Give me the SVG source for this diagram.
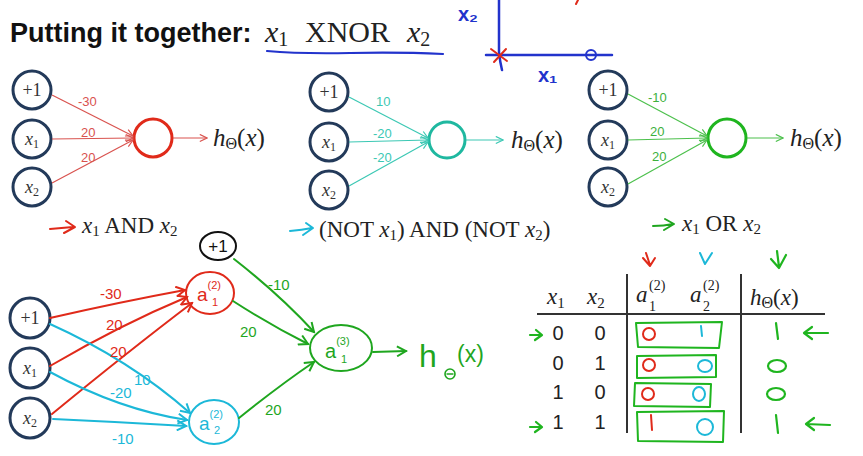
<svg xmlns="http://www.w3.org/2000/svg" width="863" height="456" viewBox="0 0 863 456">
<defs>
<marker id="ar" viewBox="0 0 10 10" refX="9" refY="5" markerWidth="9" markerHeight="9" markerUnits="userSpaceOnUse" orient="auto"><path d="M1,1 L9,5 L1,9" fill="none" stroke="#d9534f" stroke-width="1.3"/></marker>
<marker id="at" viewBox="0 0 10 10" refX="9" refY="5" markerWidth="9" markerHeight="9" markerUnits="userSpaceOnUse" orient="auto"><path d="M1,1 L9,5 L1,9" fill="none" stroke="#3cc8b4" stroke-width="1.3"/></marker>
<marker id="ag" viewBox="0 0 10 10" refX="9" refY="5" markerWidth="9" markerHeight="9" markerUnits="userSpaceOnUse" orient="auto"><path d="M1,1 L9,5 L1,9" fill="none" stroke="#4cc04c" stroke-width="1.3"/></marker>
<marker id="hr" viewBox="0 0 12 12" refX="10" refY="6" markerWidth="12" markerHeight="12" markerUnits="userSpaceOnUse" orient="auto"><path d="M1,1 L10,6 L1,11" fill="none" stroke="#e02a1a" stroke-width="2"/></marker>
<marker id="hc" viewBox="0 0 12 12" refX="10" refY="6" markerWidth="12" markerHeight="12" markerUnits="userSpaceOnUse" orient="auto"><path d="M1,1 L10,6 L1,11" fill="none" stroke="#1cb8d8" stroke-width="2"/></marker>
<marker id="hg" viewBox="0 0 12 12" refX="10" refY="6" markerWidth="12" markerHeight="12" markerUnits="userSpaceOnUse" orient="auto"><path d="M1,1 L10,6 L1,11" fill="none" stroke="#1fa61f" stroke-width="2"/></marker>
</defs>
<style>
.in{fill:#fff;stroke:#233a5a;stroke-width:3}
.nt{font-family:"Liberation Serif",serif;font-size:18px;fill:#333;text-anchor:middle}
.it{font-style:italic}
.sub{font-size:12px}
.math{font-family:"Liberation Serif",serif;fill:#222}
.w{font-family:"Liberation Sans",sans-serif;font-size:13px}
.hw{font-family:"Liberation Sans",sans-serif}
.tb{font-family:"Liberation Sans",sans-serif;font-size:20px;fill:#222;text-anchor:middle}
.hd{fill:none;stroke-linecap:round;stroke-linejoin:round}
.ho{font-size:25px}
.lb{font-size:23px}
</style>
<rect width="863" height="456" fill="#fff"/>

<!-- title -->
<g id="title">
<text x="10" y="42" font-family="Liberation Sans,sans-serif" font-weight="bold" font-size="27" fill="#111">Putting it together:</text>
<text y="42" class="math" font-size="30"><tspan x="265" class="it">x</tspan><tspan font-size="20" dy="4">1</tspan><tspan x="305" dy="-4">XNOR</tspan><tspan x="407" class="it">x</tspan><tspan font-size="20" dy="4">2</tspan></text>
<path d="M267,51 Q300,54 350,53 Q400,52 443,54" class="hd" stroke="#2233cc" stroke-width="2.2"/>
</g>

<!-- sketch axes -->
<g id="axes">
<path d="M499,0 L499,52 Q500,62 502,70" class="hd" stroke="#2233cc" stroke-width="2.5"/>
<path d="M486,55 L612,55" class="hd" stroke="#2233cc" stroke-width="2.5"/>
<path d="M491,49 L507,61 M494,62 L506,49" class="hd" stroke="#e02a1a" stroke-width="2"/>
<ellipse cx="591" cy="55" rx="5" ry="5" class="hd" stroke="#2233cc" stroke-width="2"/>
<path d="M578,0 L576,4" class="hd" stroke="#e02a1a" stroke-width="2"/>
<text x="458" y="21" class="hw" font-size="20" font-weight="bold" fill="#2233cc">x₂</text>
<text x="538" y="82" class="hw" font-size="20" font-weight="bold" fill="#2233cc">x₁</text>
</g>

<!-- Network 1: AND -->
<g id="and-net">
<g id="n1-bias"><circle cx="32" cy="90" r="19" class="in"/><text x="32" y="96" class="nt">+1</text></g>
<g id="n1-x1"><circle cx="32" cy="139" r="19" class="in"/><text x="32" y="145" class="nt"><tspan class="it">x</tspan><tspan class="sub" dy="3">1</tspan></text></g>
<g id="n1-x2"><circle cx="32" cy="187" r="19" class="in"/><text x="32" y="193" class="nt"><tspan class="it">x</tspan><tspan class="sub" dy="3">2</tspan></text></g>
<g id="n1-out"><circle cx="153" cy="138" r="19" fill="#fff" stroke="#e02a1a" stroke-width="3"/></g>
<g stroke="#d9534f" stroke-width="1.2">
<line x1="52" y1="95" x2="133" y2="136" marker-end="url(#ar)"/>
<line x1="52" y1="139" x2="133" y2="138" marker-end="url(#ar)"/>
<line x1="52" y1="183" x2="133" y2="140" marker-end="url(#ar)"/>
<line x1="173" y1="138" x2="207" y2="138" marker-end="url(#ar)"/>
</g>
<g class="w" fill="#d9534f"><text x="78" y="106">-30</text><text x="81" y="137">20</text><text x="81" y="162">20</text></g>
<text x="213" y="146" class="math ho"><tspan class="it">h</tspan><tspan font-size="16" dy="3">Θ</tspan><tspan dy="-3">(</tspan><tspan class="it">x</tspan>)</text>
<path d="M50,229 L73,227 M66,221 L75,227 L64,233" class="hd" stroke="#e02a1a" stroke-width="2"/>
<text x="82" y="233" class="math lb" fill="#d22"><tspan class="it">x</tspan><tspan font-size="15" dy="3">1</tspan><tspan dy="-3"> AND </tspan><tspan class="it">x</tspan><tspan font-size="15" dy="3">2</tspan></text>
</g>

<!-- Network 2: NOT AND NOT -->
<g id="nor-net">
<g id="n2-bias"><circle cx="329" cy="92" r="19" class="in"/><text x="329" y="98" class="nt">+1</text></g>
<g id="n2-x1"><circle cx="329" cy="142" r="19" class="in"/><text x="329" y="148" class="nt"><tspan class="it">x</tspan><tspan class="sub" dy="3">1</tspan></text></g>
<g id="n2-x2"><circle cx="329" cy="190" r="19" class="in"/><text x="329" y="196" class="nt"><tspan class="it">x</tspan><tspan class="sub" dy="3">2</tspan></text></g>
<g id="n2-out"><circle cx="447" cy="140" r="18" fill="#fff" stroke="#1fb8a0" stroke-width="3"/></g>
<g stroke="#3cc8b4" stroke-width="1.2">
<line x1="349" y1="97" x2="428" y2="138" marker-end="url(#at)"/>
<line x1="349" y1="142" x2="428" y2="140" marker-end="url(#at)"/>
<line x1="349" y1="186" x2="428" y2="142" marker-end="url(#at)"/>
<line x1="466" y1="140" x2="503" y2="140" marker-end="url(#at)"/>
</g>
<g class="w" fill="#3cc8b4"><text x="376" y="106">10</text><text x="373" y="138">-20</text><text x="373" y="162">-20</text></g>
<text x="511" y="148" class="math ho"><tspan class="it">h</tspan><tspan font-size="16" dy="3">Θ</tspan><tspan dy="-3">(</tspan><tspan class="it">x</tspan>)</text>
<path d="M290,231 Q302,230 312,228 M306,223 L313,228 L303,235" class="hd" stroke="#1cb8d8" stroke-width="2"/>
<text x="319" y="237" class="math lb" fill="#1aa3c4">(NOT <tspan class="it">x</tspan><tspan font-size="15" dy="3">1</tspan><tspan dy="-3">) AND (NOT </tspan><tspan class="it">x</tspan><tspan font-size="15" dy="3">2</tspan><tspan dy="-3">)</tspan></text>
</g>

<!-- Network 3: OR -->
<g id="or-net">
<g id="n3-bias"><circle cx="608" cy="90" r="19" class="in"/><text x="608" y="96" class="nt">+1</text></g>
<g id="n3-x1"><circle cx="608" cy="140" r="19" class="in"/><text x="608" y="146" class="nt"><tspan class="it">x</tspan><tspan class="sub" dy="3">1</tspan></text></g>
<g id="n3-x2"><circle cx="608" cy="187" r="19" class="in"/><text x="608" y="193" class="nt"><tspan class="it">x</tspan><tspan class="sub" dy="3">2</tspan></text></g>
<g id="n3-out"><circle cx="727" cy="138" r="19" fill="#fff" stroke="#1fb51f" stroke-width="3"/></g>
<g stroke="#4cc04c" stroke-width="1.2">
<line x1="628" y1="94" x2="707" y2="136" marker-end="url(#ag)"/>
<line x1="628" y1="140" x2="707" y2="138" marker-end="url(#ag)"/>
<line x1="628" y1="184" x2="707" y2="140" marker-end="url(#ag)"/>
<line x1="747" y1="138" x2="783" y2="138" marker-end="url(#ag)"/>
</g>
<g class="w" fill="#3cb03c"><text x="648" y="102">-10</text><text x="650" y="136">20</text><text x="652" y="161">20</text></g>
<text x="790" y="146" class="math ho"><tspan class="it">h</tspan><tspan font-size="16" dy="3">Θ</tspan><tspan dy="-3">(</tspan><tspan class="it">x</tspan>)</text>
<path d="M653,226 Q664,226 673,224 M665,219 L674,224 L664,230" class="hd" stroke="#1fa61f" stroke-width="2"/>
<text x="682" y="231" class="math lb" fill="#1fa61f"><tspan class="it">x</tspan><tspan font-size="15" dy="3">1</tspan><tspan dy="-3"> OR </tspan><tspan class="it">x</tspan><tspan font-size="15" dy="3">2</tspan></text>
</g>

<!-- Bottom XNOR network -->
<g id="xnor-net">
<g id="b-bias"><circle cx="30" cy="318" r="20" class="in"/><text x="30" y="324" class="nt">+1</text></g>
<g id="b-x1"><circle cx="30" cy="368" r="20" class="in"/><text x="30" y="374" class="nt"><tspan class="it">x</tspan><tspan class="sub" dy="3">1</tspan></text></g>
<g id="b-x2"><circle cx="30" cy="418" r="20" class="in"/><text x="30" y="424" class="nt"><tspan class="it">x</tspan><tspan class="sub" dy="3">2</tspan></text></g>
<g id="b-bias2"><ellipse cx="218" cy="246" rx="18" ry="14" class="hd" stroke="#111" stroke-width="2"/><text x="218" y="252" class="hw" font-size="17" fill="#111" text-anchor="middle">+1</text></g>
<g id="b-a1"><ellipse cx="210" cy="293" rx="24" ry="21" class="hd" stroke="#e02a1a" stroke-width="2"/><text x="197" y="301" class="hw" font-size="19" fill="#e02a1a">a<tspan font-size="11" dy="-12">(2)</tspan><tspan font-size="11" x="212" dy="17">1</tspan></text></g>
<g id="b-a2"><ellipse cx="214" cy="422" rx="25" ry="22" class="hd" stroke="#1cb8d8" stroke-width="2"/><text x="199" y="430" class="hw" font-size="19" fill="#1cb8d8">a<tspan font-size="11" dy="-12">(2)</tspan><tspan font-size="11" x="214" dy="16">2</tspan></text></g>
<g id="b-a3"><ellipse cx="341" cy="348" rx="31" ry="23" class="hd" stroke="#1fa61f" stroke-width="2"/><text x="325" y="358" class="hw" font-size="20" fill="#1fa61f">a<tspan font-size="11" dy="-13">(3)</tspan><tspan font-size="11" x="341" dy="18">1</tspan></text></g>
<g id="b-out"><text x="419" y="367" class="hw" font-size="32" fill="#1fa61f">h</text><circle cx="450" cy="374" r="5" class="hd" stroke="#1fa61f" stroke-width="1.6"/><path d="M447,374 L453,374" class="hd" stroke="#1fa61f" stroke-width="1.3"/><text x="457" y="362" class="hw" font-size="23" fill="#1fa61f">(x)</text></g>
</g>
<g id="connectors" stroke-width="2" class="hd">
<path d="M50,318 Q120,302 185,290" stroke="#e02a1a" marker-end="url(#hr)"/>
<path d="M50,366 Q120,325 187,297" stroke="#e02a1a" marker-end="url(#hr)"/>
<path d="M52,414 Q130,350 192,303" stroke="#e02a1a" marker-end="url(#hr)"/>
<path d="M50,324 Q130,360 190,413" stroke="#1cb8d8" marker-end="url(#hc)"/>
<path d="M50,372 Q120,410 187,420" stroke="#1cb8d8" marker-end="url(#hc)"/>
<path d="M53,419 Q120,422 186,426" stroke="#1cb8d8" marker-end="url(#hc)"/>
<path d="M234,259 Q280,295 314,332" stroke="#1fa61f" marker-end="url(#hg)"/>
<path d="M233,301 Q270,325 308,344" stroke="#1fa61f" marker-end="url(#hg)"/>
<path d="M239,418 Q280,385 314,362" stroke="#1fa61f" marker-end="url(#hg)"/>
<path d="M373,352 L406,351" stroke="#1fa61f" marker-end="url(#hg)"/>
</g>
<g id="weights" class="hw" font-size="15">
<text x="100" y="299" fill="#e02a1a">-30</text>
<text x="106" y="330" fill="#e02a1a">20</text>
<text x="110" y="357" fill="#e02a1a">20</text>
<text x="134" y="385" fill="#1cb8d8">10</text>
<text x="110" y="398" fill="#1cb8d8">-20</text>
<text x="112" y="444" fill="#1cb8d8">-10</text>
<text x="268" y="290" fill="#1fa61f">-10</text>
<text x="240" y="337" fill="#1fa61f">20</text>
<text x="265" y="415" fill="#1fa61f">20</text>
</g>

<!-- truth table -->
<g id="table">
<g class="math" font-size="23">
<text x="547" y="304"><tspan class="it">x</tspan><tspan font-size="15" dy="4">1</tspan></text>
<text x="587" y="304"><tspan class="it">x</tspan><tspan font-size="15" dy="4">2</tspan></text>
<text x="636" y="302"><tspan class="it">a</tspan><tspan font-size="14" x="649" dy="-12">(2)</tspan><tspan font-size="14" x="649" dy="21">1</tspan></text>
<text x="690" y="302"><tspan class="it">a</tspan><tspan font-size="14" x="703" dy="-12">(2)</tspan><tspan font-size="14" x="703" dy="21">2</tspan></text>
<text x="750" y="305"><tspan class="it">h</tspan><tspan font-size="16" dy="3">Θ</tspan><tspan dy="-3">(</tspan><tspan class="it">x</tspan>)</text>
</g>
<path d="M537,314 L825,314 M627,274 L627,433 M741,274 L741,433" stroke="#333" stroke-width="2"/>
<g class="tb">
<text x="558" y="340">0</text><text x="600" y="340">0</text>
<text x="558" y="370">0</text><text x="600" y="370">1</text>
<text x="558" y="399">1</text><text x="600" y="399">0</text>
<text x="558" y="429">1</text><text x="600" y="429">1</text>
</g>
<g class="hd" stroke="#1fb51f" stroke-width="2">
<path d="M636,323 L722,322 L719,348 L638,347 Z"/>
<path d="M637,356 L716,355 L716,377 L637,378 Z"/>
<path d="M635,383 L711,384 L710,407 L634,406 Z"/>
<path d="M637,412 L724,411 L723,442 L638,441 Z"/>
</g>
<g class="hd" stroke="#e02a1a" stroke-width="2">
<ellipse cx="649" cy="334" rx="6" ry="6"/>
<ellipse cx="649" cy="365" rx="6" ry="6"/>
<ellipse cx="648" cy="394" rx="6" ry="6"/>
<path d="M651,415 L652,430"/>
<path d="M646,253 L650,265 M643,258 L650,266 L655,258"/>
</g>
<g class="hd" stroke="#1cb8d8" stroke-width="2">
<path d="M701,326 L702,336"/>
<ellipse cx="705" cy="366" rx="7" ry="6"/>
<ellipse cx="699" cy="394" rx="6" ry="7"/>
<ellipse cx="705" cy="427" rx="8" ry="8"/>
<path d="M700,253 L705,264 L712,253"/>
</g>
<g class="hd" stroke="#1fb51f" stroke-width="2.2">
<path d="M776,323 L778,339"/>
<ellipse cx="777" cy="366" rx="9" ry="6"/>
<ellipse cx="776" cy="394" rx="9" ry="6"/>
<path d="M776,415 L778,433"/>
<path d="M777,251 L779,267 M771,259 L779,268 L786,255"/>
<path d="M828,333 L804,333 M812,327 L804,333 L812,339"/>
<path d="M830,425 L806,424 M814,418 L806,424 L814,430"/>
<path d="M530,335 L541,335 M536,330 L542,335 L535,340"/>
<path d="M530,427 L541,427 M536,422 L542,427 L535,432"/>
</g>
</g>
</svg>
